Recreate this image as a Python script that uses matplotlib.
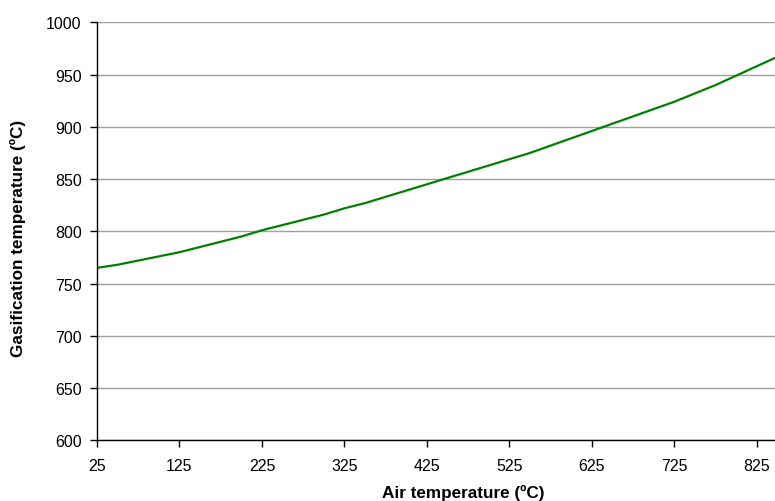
import matplotlib
matplotlib.use("Agg")
import matplotlib.pyplot as plt
import numpy as np

plt.rcParams['font.family'] = ['Liberation Sans', 'DejaVu Sans']

# air temperature (ºC) and resulting gasification temperature (ºC)
air_temp = np.arange(25, 851, 25)
gasif_temp = [765, 768, 772, 776, 780, 785, 790, 795, 801, 806,
              811, 816, 822, 827, 833, 839, 845, 851, 857, 863,
              869, 875, 882, 889, 896, 903, 910, 917, 924, 932,
              940, 949, 958, 967]
x_ticks = [25, 125, 225, 325, 425, 525, 625, 725, 825]
y_ticks = np.arange(600, 1001, 50)

fig = plt.figure(figsize=(7.75, 5.02), dpi=100)
ax = fig.add_axes([97 / 775, 1 - 441.3 / 502, 1 - 97 / 775, (441.3 - 23.3) / 502])

ax.plot(air_temp, gasif_temp, color='#008000', lw=1.6)

ax.set_xlim(25, 847)
ax.set_ylim(600, 1000)
ax.set_xticks(x_ticks)
ax.set_yticks(y_ticks)
ax.grid(axis='y', color='#a0a0a0', lw=1)
ax.set_axisbelow(True)

for s in ['top', 'right']:
    ax.spines[s].set_visible(False)
for s in ['left', 'bottom']:
    ax.spines[s].set_linewidth(1.0)
ax.tick_params(direction='out', length=5, width=1, labelsize=11.5)
ax.tick_params(axis='y', pad=6)
ax.tick_params(axis='x', pad=8)

fig.text(463.5 / 775, 1 - 493 / 502, 'Air temperature (ºC)', ha='center', va='center',
         fontsize=12.3, fontweight='bold')
fig.text(18 / 775, 1 - 238 / 502, 'Gasification temperature (ºC)', ha='center', va='center',
         rotation=90, fontsize=12.3, fontweight='bold')

fig.savefig('out.png', dpi=100)
